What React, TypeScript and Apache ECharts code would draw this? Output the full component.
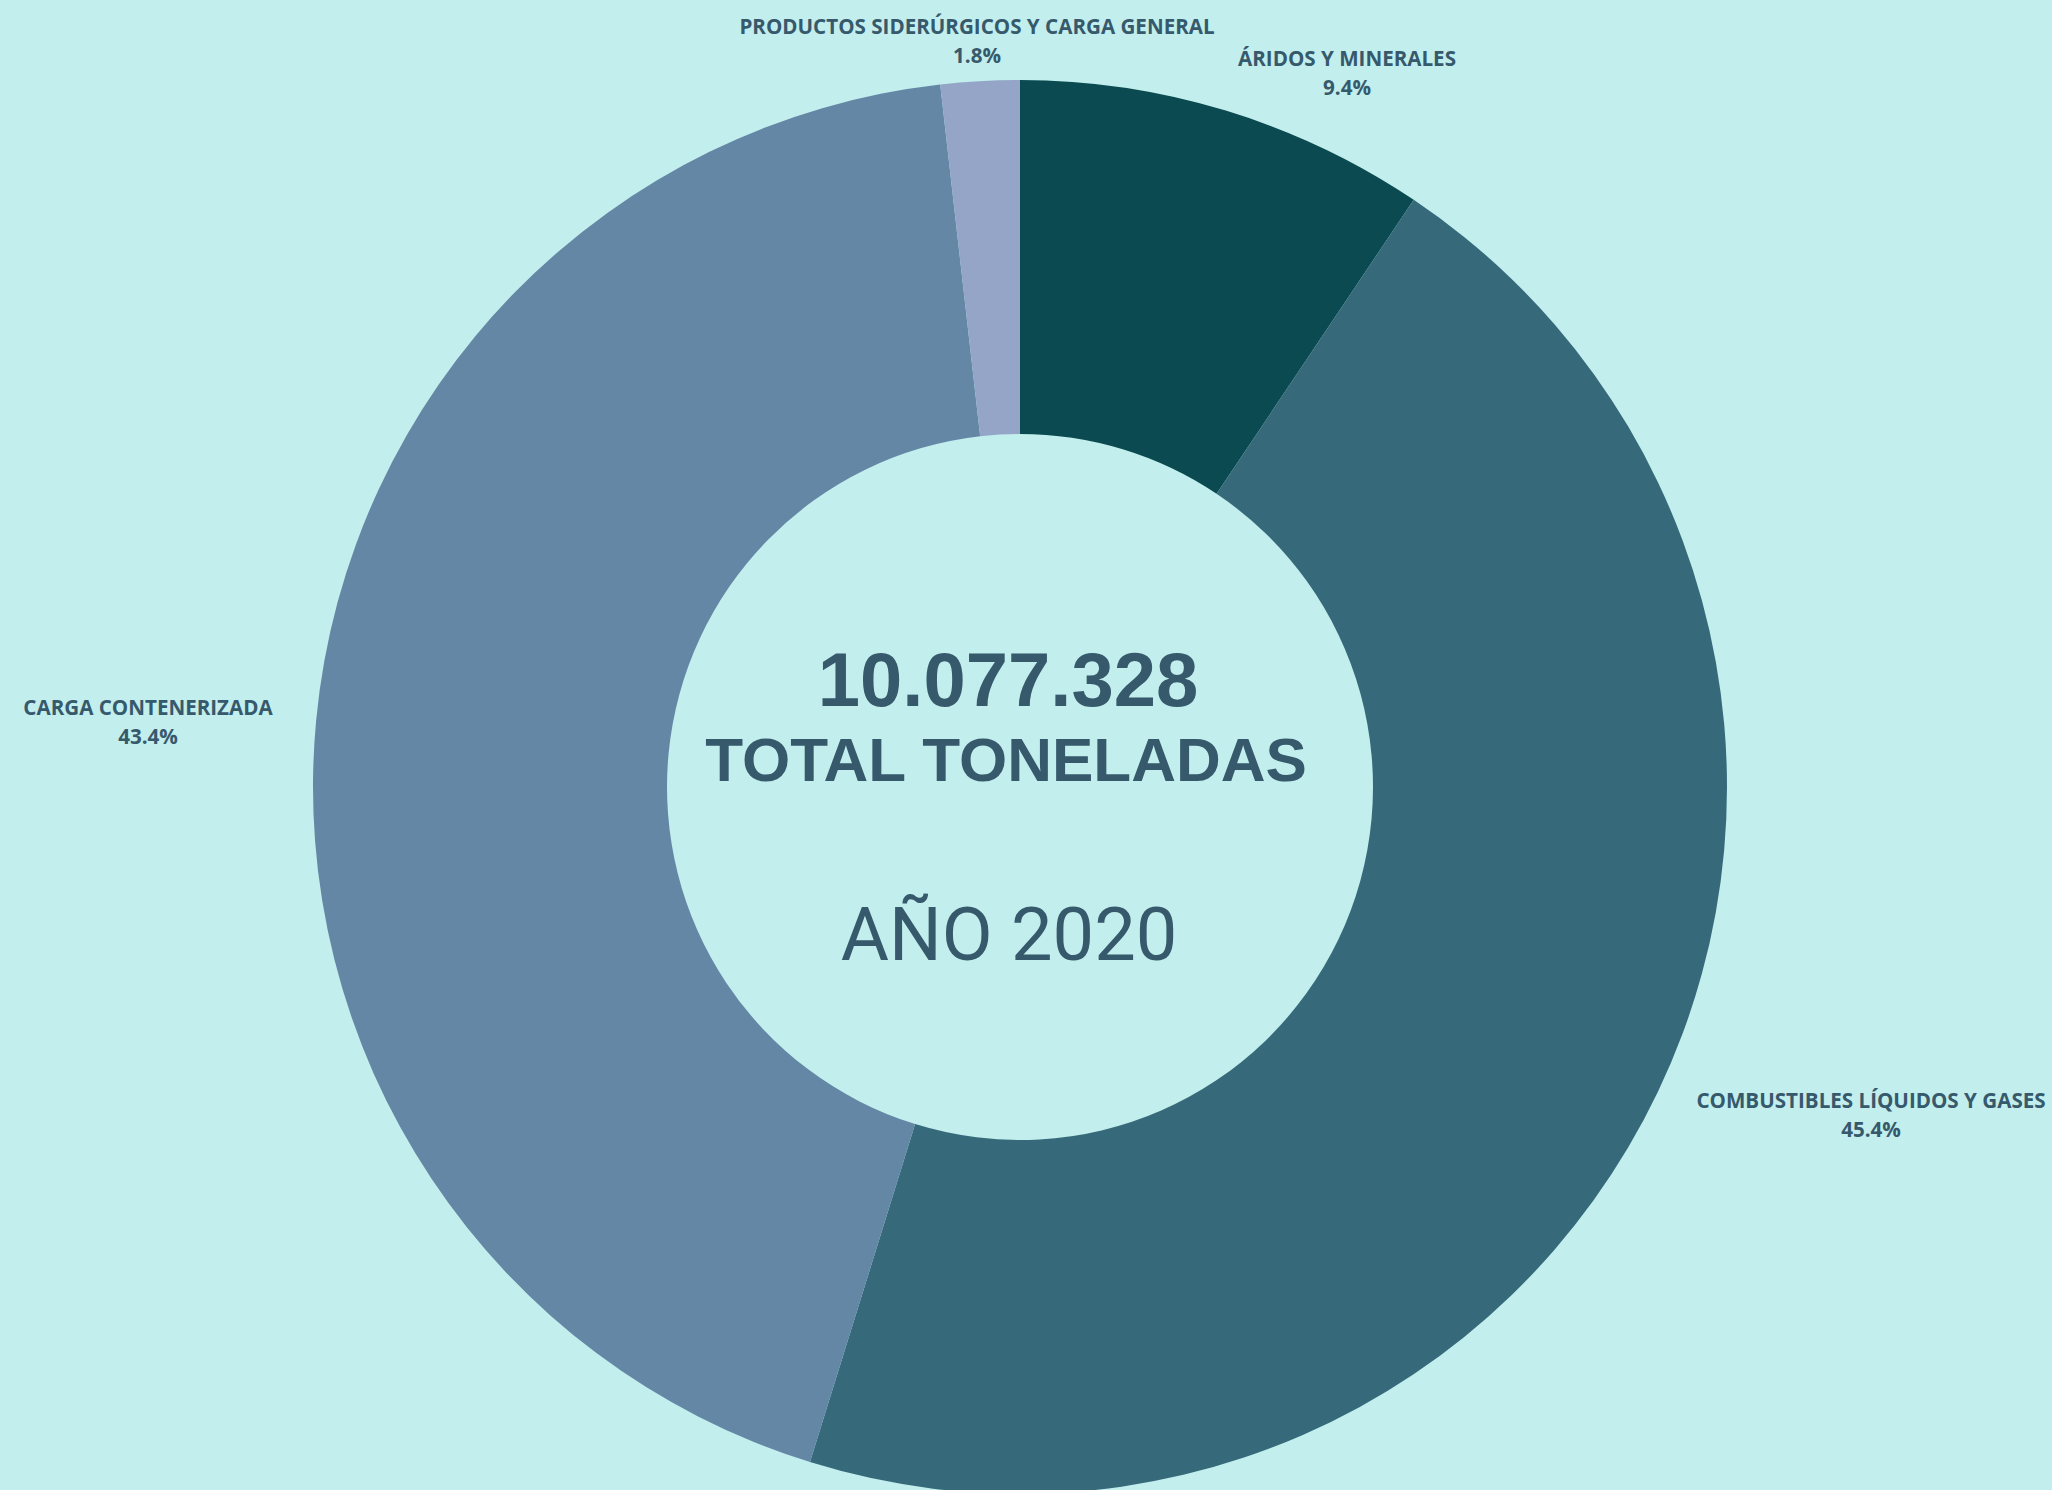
import React, { useEffect, useRef } from "react";
import * as echarts from "echarts";

const categories = [
  "ÁRIDOS Y MINERALES",
  "COMBUSTIBLES LÍQUIDOS Y GASES",
  "CARGA CONTENERIZADA",
  "PRODUCTOS SIDERÚRGICOS Y CARGA GENERAL",
];
const percentages = [9.4, 45.4, 43.4, 1.8];
const totalTons = "10.077.328";
const totalLabel = "TOTAL TONELADAS";
const yearLabel = "AÑO 2020";

const sliceColors = ["#0a4a50", "#366a7a", "#6587a6", "#94a5c8"];
const labelPos: [number, number][] = [
  [1347, 72],
  [1871, 1114],
  [148, 721],
  [977, 40],
];

const textColor = "#36596b";
const bg = "#c2eeed";

export default function App() {
  const ref = useRef<HTMLDivElement>(null);
  useEffect(() => {
    if (!ref.current) return;
    const chart = echarts.init(ref.current, undefined, { renderer: "svg" });
    chart.setOption({
      animation: false,
      backgroundColor: bg,
      series: [
        {
          type: "pie",
          center: [1020, 787],
          radius: [353, 707],
          startAngle: 90,
          clockwise: true,
          avoidLabelOverlap: false,
          data: categories.map((name, i) => ({
            name,
            value: percentages[i],
            itemStyle: { color: sliceColors[i] },
          })),
          label: {
            show: true,
            position: "outside",
            formatter: (p: any) => `${p.name}\n${Number(p.value).toFixed(1)}%`,
            fontFamily: "Open Sans",
            fontWeight: "bold",
            fontSize: 20.6,
            lineHeight: 29,
            color: textColor,
            align: "center",
          },
          labelLine: { show: false },
          labelLayout: (params: any) => {
            const p = labelPos[params.dataIndex];
            return { x: p[0], y: p[1], align: "center", verticalAlign: "middle" };
          },
          emphasis: { disabled: true },
        },
      ],
      graphic: [
        {
          type: "text",
          x: 1008,
          y: 679,
          style: {
            text: totalTons,
            font: "bold 76px 'Liberation Sans', Arial, sans-serif",
            fill: textColor,
            textAlign: "center",
            textVerticalAlign: "middle",
          },
        },
        {
          type: "text",
          x: 1006,
          y: 759,
          style: {
            text: totalLabel,
            font: "bold 62px 'Liberation Sans', Arial, sans-serif",
            fill: textColor,
            textAlign: "center",
            textVerticalAlign: "middle",
          },
        },
        {
          type: "text",
          x: 1009,
          y: 934,
          style: {
            text: yearLabel,
            font: "normal 74px Roboto, 'Liberation Sans', sans-serif",
            fill: textColor,
            textAlign: "center",
            textVerticalAlign: "middle",
          },
        },
      ],
    });
    return () => chart.dispose();
  }, []);
  return (
    <div
      ref={ref}
      style={{ position: "absolute", left: 0, top: 0, width: 2052, height: 1490 }}
    />
  );
}
